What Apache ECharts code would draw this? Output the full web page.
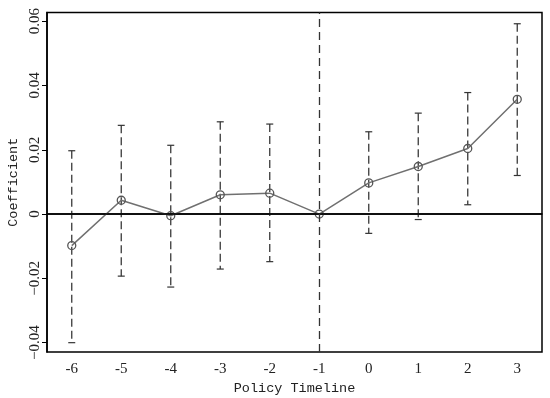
<!DOCTYPE html>
<html>
<head>
<meta charset="utf-8">
<script src="https://cdn.jsdelivr.net/npm/echarts@6/dist/echarts.min.js"></script>
<style>html,body{margin:0;padding:0;background:#fff;}#c{width:550px;height:398px;}</style>
</head>
<body>
<div id="c"></div>
<script>
const categories = ['-6','-5','-4','-3','-2','-1','0','1','2','3'];
const coef  = [-0.0098, 0.0043, -0.0005, 0.0060, 0.0065, 0, 0.0097, 0.0148, 0.0204, 0.0357];
const upper = [0.0197, 0.0276, 0.0214, 0.0287, 0.0280, null, 0.0256, 0.0314, 0.0378, 0.0592];
const lower = [-0.0400, -0.0193, -0.0227, -0.0171, -0.0148, null, -0.0060, -0.0017, 0.0029, 0.0120];
const yTicks = [-0.04, -0.02, 0, 0.02, 0.04, 0.06];
const refPeriod = '-1';

const ciData = [];
categories.forEach((c, i) => { if (upper[i] != null) ciData.push([i, upper[i], lower[i]]); });

const chart = echarts.init(document.getElementById('c'), null, {renderer: 'canvas'});
const fmt = v => { if (Math.abs(v) < 1e-9) return '0'; const s = Math.abs(v).toFixed(2); return (v < 0 ? '\u2212' : '') + s; };
chart.setOption({
  animation: false,
  grid: {left: 47, right: 8, top: 12.5, bottom: 46, containLabel: false, outerBoundsMode: 'none',
         show: true, borderColor: '#000', borderWidth: 1.5, backgroundColor: 'transparent'},
  xAxis: {
    type: 'category', data: categories, boundaryGap: true,
    name: 'Policy Timeline', nameLocation: 'middle', nameGap: 25,
    nameTextStyle: {fontFamily: 'Liberation Mono', fontSize: 13.5, color: '#222'},
    axisLine: {lineStyle: {color: '#000', width: 1.5}},
    axisTick: {alignWithLabel: true, length: 5, lineStyle: {color: '#000', width: 1}},
    axisLabel: {fontFamily: 'Liberation Serif', fontSize: 15, color: '#222', margin: 10},
    splitLine: {show: false}
  },
  yAxis: {
    type: 'value', min: -0.0429, max: 0.0627,
    name: 'Coefficient', nameLocation: 'middle', nameGap: 23,
    nameTextStyle: {fontFamily: 'Liberation Mono', fontSize: 13.5, color: '#222'},
    axisLine: {show: true, lineStyle: {color: '#000', width: 1.5}},
    axisTick: {show: true, length: 5, customValues: yTicks, lineStyle: {color: '#000', width: 1}},
    axisLabel: {rotate: 90, fontFamily: 'Liberation Serif', fontSize: 15, color: '#222', margin: 4, customValues: yTicks, formatter: fmt},
    splitLine: {show: false}
  },
  series: [
    {
      type: 'custom', z: 2,
      encode: {x: 0, y: [1, 2]},
      data: ciData,
      renderItem: function (params, api) {
        const i = api.value(0);
        const t = api.coord([i, api.value(1)]);
        const b = api.coord([i, api.value(2)]);
        const w = 3.5;
        const st = {stroke: '#333', lineWidth: 1.2};
        return {type: 'group', children: [
          {type: 'line', shape: {x1: t[0], y1: t[1], x2: b[0], y2: b[1]}, style: {stroke: '#3a3a3a', lineWidth: 1.3, lineDash: [8, 4]}},
          {type: 'line', shape: {x1: t[0] - w, y1: t[1], x2: t[0] + w, y2: t[1]}, style: st},
          {type: 'line', shape: {x1: b[0] - w, y1: b[1], x2: b[0] + w, y2: b[1]}, style: st}
        ]};
      }
    },
    {
      type: 'line', z: 3,
      data: coef,
      symbol: 'circle', symbolSize: 8,
      lineStyle: {color: '#707070', width: 1.5},
      itemStyle: {color: 'rgba(0,0,0,0)', borderColor: '#555', borderWidth: 1.3},
      markLine: {
        silent: true, symbol: 'none', label: {show: false},
        data: [
          {yAxis: 0, lineStyle: {color: '#000', width: 1.5, type: 'solid'}},
          {xAxis: categories.indexOf(refPeriod), lineStyle: {color: '#333', width: 1.3, type: [8, 5]}}
        ]
      }
    }
  ]
});
</script>
</body>
</html>
